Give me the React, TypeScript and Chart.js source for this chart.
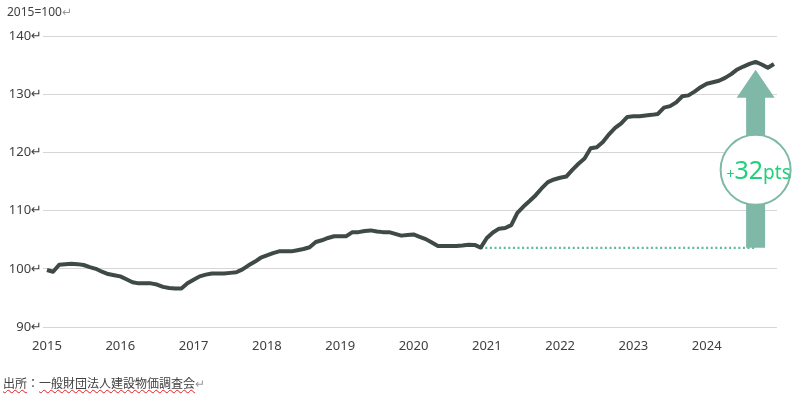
import React, { useEffect, useRef } from "react";
import { Chart, registerables } from "chart.js";

Chart.register(...registerables);

const YEARS = ["2015", "2016", "2017", "2018", "2019", "2020", "2021", "2022", "2023", "2024"];

const V2015 = [99.8, 99.5, 100.7, 100.8, 100.85, 100.8, 100.65, 100.3, 100.0, 99.5, 99.1, 98.9];
const V2016 = [98.7, 98.2, 97.7, 97.5, 97.5, 97.5, 97.3, 96.9, 96.7, 96.6, 96.6, 97.5];
const V2017 = [98.1, 98.7, 99.0, 99.2, 99.2, 99.2, 99.3, 99.4, 99.9, 100.6, 101.2, 101.9];
const V2018 = [102.3, 102.7, 103.0, 103.0, 103.0, 103.2, 103.4, 103.7, 104.6, 104.9, 105.3, 105.6];
const V2019 = [105.6, 105.6, 106.3, 106.3, 106.5, 106.6, 106.4, 106.3, 106.3, 106.0, 105.7, 105.8];
const V2020 = [105.9, 105.5, 105.1, 104.5, 103.9, 103.9, 103.9, 103.9, 104.0, 104.15, 104.1, 103.65];
const V2021 = [105.3, 106.25, 106.9, 107.0, 107.5, 109.6, 110.7, 111.65, 112.65, 113.85, 114.9, 115.35];
const V2022 = [115.65, 115.85, 117.0, 118.05, 118.95, 120.7, 120.9, 121.8, 123.1, 124.2, 125.0, 126.1];
const V2023 = [126.2, 126.2, 126.35, 126.45, 126.6, 127.7, 127.95, 128.6, 129.65, 129.8, 130.45, 131.2];
const V2024 = [131.8, 132.05, 132.3, 132.8, 133.45, 134.25, 134.75, 135.2, 135.55, 135.1, 134.55, 135.2];

const VALUES = [...V2015, ...V2016, ...V2017, ...V2018, ...V2019, ...V2020, ...V2021, ...V2022, ...V2023, ...V2024];

const Y_TICKS = [90, 100, 110, 120, 130, 140];

// annotation values
const BASE_VALUE = 103.6;
const BASE_START_INDEX = 71;
const BASE_END_INDEX = 116;
const ARROW_INDEX = 116;
const ARROW_TIP = 134.2;
const ARROW_HEAD_BASE = 129.4;
const CIRCLE_VALUE = 117.0;
const LABEL_MAIN = "32";
const LABEL_PREFIX = "+";
const LABEL_SUFFIX = "pts";

const FONT = "'Noto Sans', 'DejaVu Sans', sans-serif";

const arrowPlugin = {
  id: "arrowPlugin",
  beforeDatasetDraw(chart: any, args: any) {
    if (args.index !== 0) return;
    const { ctx, scales } = chart;
    const x = scales.x.getPixelForValue(ARROW_INDEX);
    const yBase = scales.y.getPixelForValue(BASE_VALUE);
    const yTip = scales.y.getPixelForValue(ARROW_TIP);
    const yHead = scales.y.getPixelForValue(ARROW_HEAD_BASE);
    const yCircle = scales.y.getPixelForValue(CIRCLE_VALUE);
    ctx.save();
    ctx.fillStyle = "#7fb8a6";
    ctx.beginPath();
    ctx.moveTo(x - 9.5, yBase);
    ctx.lineTo(x - 9.5, yHead);
    ctx.lineTo(x - 19, yHead);
    ctx.lineTo(x, yTip);
    ctx.lineTo(x + 19, yHead);
    ctx.lineTo(x + 9.5, yHead);
    ctx.lineTo(x + 9.5, yBase);
    ctx.closePath();
    ctx.fill();

    ctx.beginPath();
    ctx.arc(x, yCircle, 35, 0, Math.PI * 2);
    ctx.fillStyle = "#ffffff";
    ctx.fill();
    ctx.lineWidth = 2;
    ctx.strokeStyle = "#7fb8a6";
    ctx.stroke();

    ctx.fillStyle = "#22cf7c";
    ctx.textBaseline = "alphabetic";
    const f1 = `14px ${FONT}`;
    const f2 = `25px ${FONT}`;
    const f3 = `19px ${FONT}`;
    ctx.font = f1;
    const w1 = ctx.measureText(LABEL_PREFIX).width;
    ctx.font = f2;
    const w2 = ctx.measureText(LABEL_MAIN).width;
    ctx.font = f3;
    const w3 = ctx.measureText(LABEL_SUFFIX).width;
    const total = w1 + w2 + w3;
    let tx = x - total / 2 + 3;
    const baseY = yCircle + 9;
    ctx.font = f1;
    ctx.textAlign = "left";
    ctx.fillText(LABEL_PREFIX, tx, baseY);
    tx += w1;
    ctx.font = f2;
    ctx.fillText(LABEL_MAIN, tx, baseY);
    tx += w2;
    ctx.font = f3;
    ctx.fillText(LABEL_SUFFIX, tx, baseY);
    ctx.restore();
  },
};

export default function App() {
  const ref = useRef<HTMLCanvasElement>(null);
  useEffect(() => {
    if (!ref.current) return;
    const chart = new Chart(ref.current, {
      type: "line",
      data: {
        datasets: [
          {
            data: VALUES.map((v, i) => ({ x: i, y: v })),
            borderColor: "#3e4948",
            borderWidth: 4,
            pointRadius: 0,
            tension: 0,
            borderJoinStyle: "round",
            fill: false,
          },
          {
            data: [
              { x: BASE_START_INDEX, y: BASE_VALUE },
              { x: BASE_END_INDEX, y: BASE_VALUE },
            ],
            borderColor: "#5fb99a",
            borderWidth: 2.2,
            borderDash: [2, 2.6],
            pointRadius: 0,
            fill: false,
          },
        ],
      },
      options: {
        responsive: false,
        animation: false,
        devicePixelRatio: 1,
        layout: { padding: { top: 36, right: 23, left: 0, bottom: 0 } },
        plugins: { legend: { display: false }, tooltip: { enabled: false } },
        scales: {
          x: {
            type: "linear",
            min: -0.65,
            max: 119.5,
            grid: { display: false, drawTicks: false },
            border: { display: false },
            afterBuildTicks: (scale: any) => {
              scale.ticks = YEARS.map((_, i) => ({ value: i * 12 }));
            },
            afterFit: (scale: any) => {
              scale.height = 68;
            },
            ticks: {
              autoSkip: false,
              maxRotation: 0,
              padding: 11,
              color: "#404040",
              font: { family: FONT, size: 13 },
              callback: (v: any) => YEARS[Math.round(Number(v) / 12)],
            },
          },
          y: {
            min: 90,
            max: 140,
            afterBuildTicks: (scale: any) => {
              scale.ticks = Y_TICKS.map((v) => ({ value: v }));
            },
            afterFit: (scale: any) => {
              scale.width = 43;
            },
            grid: { color: "#d6d6d6", lineWidth: 1, drawTicks: false },
            border: { display: false },
            ticks: {
              padding: 1,
              color: "#404040",
              font: { family: FONT, size: 13 },
              callback: (v: any) => `${v}↵`,
            },
          },
        },
      },
      plugins: [arrowPlugin],
    } as any);
    return () => chart.destroy();
  }, []);

  return (
    <div
      style={{
        position: "fixed",
        left: 0,
        top: 0,
        width: 800,
        height: 395,
        background: "#ffffff",
        overflow: "hidden",
      }}
    >
      <canvas ref={ref} width={800} height={395} style={{ position: "absolute", left: 0, top: 0, width: 800, height: 395 }} />
      <div
        style={{
          position: "absolute",
          left: 7,
          top: 4,
          fontFamily: FONT,
          fontSize: 12,
          lineHeight: "16px",
          color: "#404040",
        }}
      >
        2015=100<span style={{ color: "#9a9a9a" }}>↵</span>
      </div>
      <div
        style={{
          position: "absolute",
          left: 3,
          top: 374,
          fontFamily: "'Noto Sans CJK JP', sans-serif",
          fontSize: 12,
          lineHeight: "18px",
          color: "#404040",
          whiteSpace: "nowrap",
        }}
      >
        <span style={{ textDecoration: "underline wavy #e02020", textDecorationThickness: 1 }}>出所</span>
        ：
        <span style={{ textDecoration: "underline wavy #e02020", textDecorationThickness: 1 }}>一般財団法人建設物価調査会</span>
        <span style={{ color: "#9a9a9a" }}>↵</span>
      </div>
    </div>
  );
}
